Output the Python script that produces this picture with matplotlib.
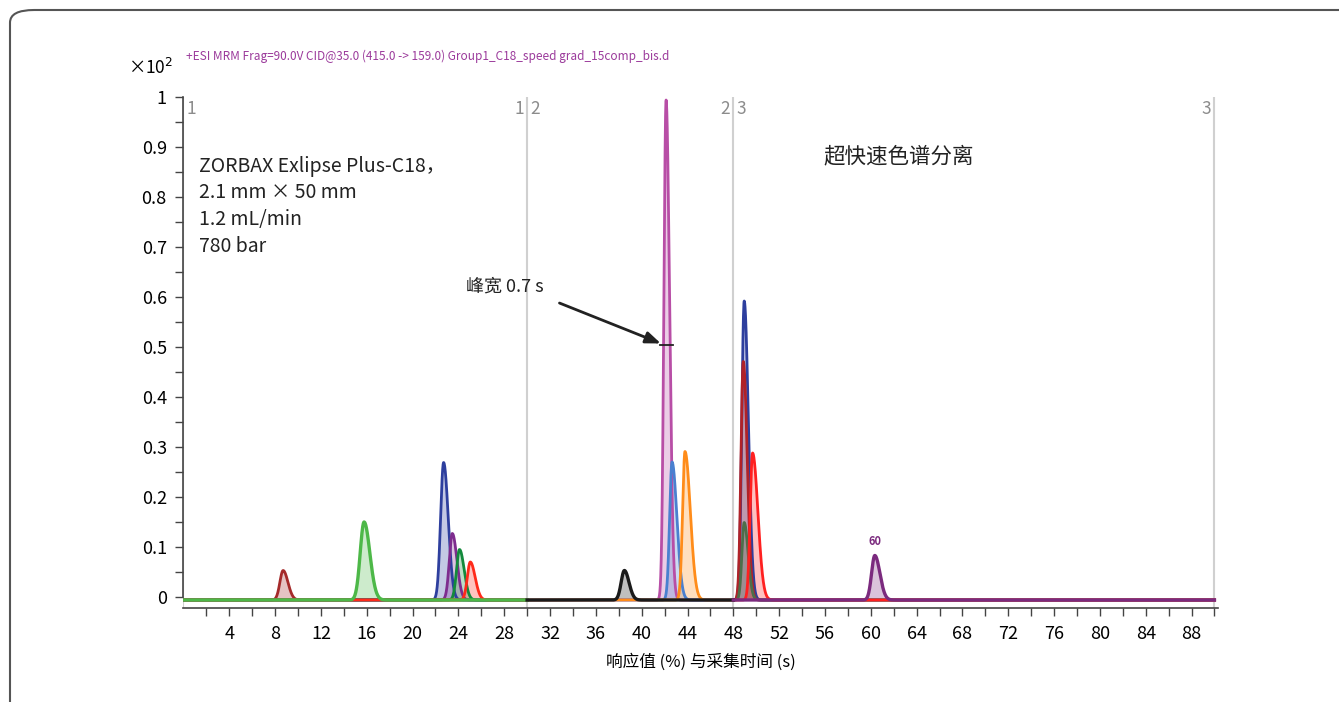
import numpy as np
import matplotlib.pyplot as plt
from matplotlib.patches import FancyBboxPatch
from matplotlib.ticker import MultipleLocator

plt.rcParams['font.family'] = ['Noto Sans CJK SC', 'DejaVu Sans']

# peak table (time s, height x10^2)
peak_times = [8.70, 15.77, 22.71, 23.47, 24.10, 25.04,
              38.49, 42.13, 42.65, 43.78,
              48.95, 48.87, 48.95, 49.68, 60.35]
peak_heights = [0.059, 0.156, 0.275, 0.133, 0.101, 0.076,
                0.059, 1.000, 0.276, 0.297,
                0.598, 0.477, 0.155, 0.294, 0.089]
sigma_left = [0.28, 0.34, 0.26, 0.26, 0.26, 0.26,
              0.28, 0.19, 0.21, 0.21,
              0.21, 0.20, 0.20, 0.21, 0.28]
sigma_right = [0.42, 0.50, 0.40, 0.40, 0.40, 0.42,
               0.40, 0.30, 0.42, 0.46,
               0.36, 0.34, 0.34, 0.46, 0.44]
peak_segment = [0, 0, 0, 0, 0, 0, 1, 1, 1, 1, 2, 2, 2, 2, 2]
peak_colors = ['#a52a2a', '#4db848', '#2e3f9e', '#7e2c8e', '#138a3c', '#ff2a1a',
               '#1a1a1a', '#b84ea6', '#4a80d0', '#ff8c1a',
               '#2e3f9e', '#b02228', '#4d6e4a', '#ff2020', '#7b2a7e']
# trace drawn last in each segment (its baseline is the visible one)
top_trace = [1, 6, 14]

segment_bounds = [0, 30, 48, 90]
baseline = -0.006

fig = plt.figure(figsize=(13.39, 7.02), dpi=100)
ax = fig.add_axes([0.1370, 0.1339, 0.7730, 0.7279])

order = [i for i in range(len(peak_times)) if i not in top_trace] + top_trace
for i in order:
    s = peak_segment[i]
    t = np.linspace(segment_bounds[s], segment_bounds[s + 1], 3000)
    sig = np.where(t < peak_times[i], sigma_left[i], sigma_right[i])
    y = baseline + peak_heights[i] * np.exp(-0.5 * ((t - peak_times[i]) / sig) ** 2)
    ax.fill_between(t, baseline, y, color=peak_colors[i], alpha=0.28, lw=0, zorder=2)
    ax.plot(t, y, color=peak_colors[i], lw=2.0 if i not in top_trace else 2.4, zorder=3)

# segment boundaries
for xb in segment_bounds:
    ax.axvline(xb, color='#d0d0d0', lw=1.5, zorder=1)
seg_kw = dict(color='#8c8c8c', fontsize=12.5, va='top', transform=ax.get_xaxis_transform())
ax.text(0.3, 0.995, '1', ha='left', **seg_kw)
for k, xb in enumerate(segment_bounds[1:]):
    ax.text(xb - 0.3, 0.995, str(k + 1), ha='right', **seg_kw)
    if k < 2:
        ax.text(xb + 0.3, 0.995, str(k + 2), ha='left', **seg_kw)

ax.set_xlim(0, 90.35)
ax.spines['top'].set_visible(False)
ax.spines['right'].set_visible(False)
ax.spines['left'].set_bounds(0, 1)
ax.spines['left'].set_color('#444444')
ax.spines['bottom'].set_color('#444444')
ax.spines['left'].set_linewidth(1.2)
ax.spines['bottom'].set_linewidth(1.2)

ax.set_xticks(np.arange(4, 89, 4))
ax.set_xticks(np.arange(2, 91, 2), minor=True)
ax.yaxis.set_major_locator(MultipleLocator(0.1))
ax.yaxis.set_minor_locator(MultipleLocator(0.05))
ax.set_ylim(-0.022, 1.0)
yt = np.round(np.arange(0, 1.01, 0.1), 1)
ax.set_yticks(yt)
ax.set_yticklabels(['0' if v == 0 else ('1' if v == 1 else f'{v:.1f}') for v in yt])
ax.tick_params(axis='both', which='both', direction='out', length=6, width=1.0,
               color='#444444', labelsize=13, pad=6)
ax.set_ylim(-0.022, 1.0)

ax.set_xlabel('响应值 (%) 与采集时间 (s)', fontsize=12, labelpad=8)

fig.text(0.0956, 0.889, '×10$^2$', fontsize=12.5, ha='left', va='bottom')
fig.text(0.139, 0.910, '+ESI MRM Frag=90.0V CID@35.0 (415.0 -> 159.0) Group1_C18_speed grad_15comp_bis.d',
         fontsize=8.5, color='#9b3a9b', ha='left', va='bottom')

ax.text(0.015, 0.885, 'ZORBAX Exlipse Plus-C18，\n2.1 mm × 50 mm\n1.2 mL/min\n780 bar',
        transform=ax.transAxes, fontsize=14, va='top', ha='left', linespacing=1.35,
        color='#222222')
ax.text(0.618, 0.905, '超快速色谱分离', transform=ax.transAxes, fontsize=15.5,
        ha='left', va='top', color='#222222')

ax.annotate('', xy=(41.9, 0.505), xytext=(32.6, 0.59),
            arrowprops=dict(arrowstyle='-|>,head_length=0.9,head_width=0.35',
                            color='#222222', lw=2))
ax.text(24.7, 0.62, '峰宽 0.7 s', fontsize=13, ha='left', va='center', color='#222222')
ax.plot([41.6, 42.7], [0.505, 0.505], color='#222222', lw=1.3, zorder=4)

ax.text(60.35, 0.112, '60', color='#7b2a7e', fontsize=8, fontweight='bold',
        ha='center', va='center')

# outer rounded frame, cut by the image edges
frame = FancyBboxPatch((10 / 1339, -0.05), 1.05, 1.05 - 10 / 702,
                       boxstyle='round,pad=0,rounding_size=0.018',
                       transform=fig.transFigure, fill=False,
                       edgecolor='#555555', lw=1.5)
fig.patches.append(frame)

fig.savefig('out.png', dpi=100)
